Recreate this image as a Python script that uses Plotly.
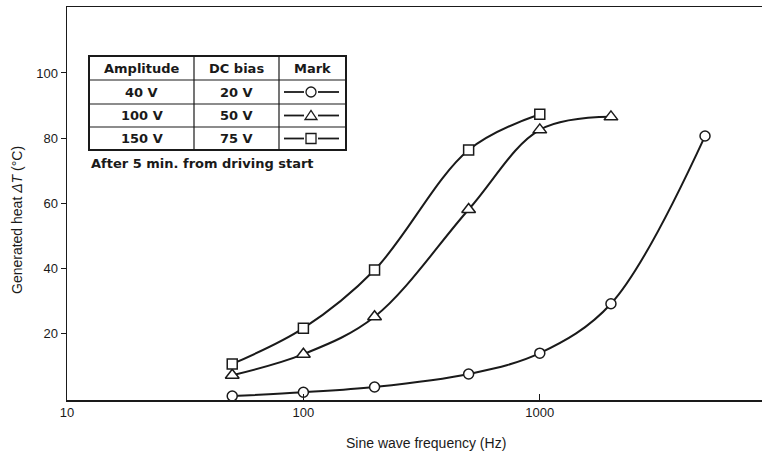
import plotly.graph_objects as go

freq_circle = [50, 100, 200, 500, 1000, 2000, 5000]
heat_circle = [0.6, 1.8, 3.4, 7.4, 13.8, 29, 80.6]
freq_triangle = [50, 100, 200, 500, 1000, 2000]
heat_triangle = [7, 13.5, 25, 58, 82.5, 86.5]
freq_square = [50, 100, 200, 500, 1000]
heat_square = [10.5, 21.5, 39.4, 76.3, 87.3]

x_ticks = [10, 100, 1000]
y_ticks = [20, 40, 60, 80, 100]

table_header = ["Amplitude", "DC bias", "Mark"]
table_amplitude = ["40 V", "100 V", "150 V"]
table_bias = ["20 V", "50 V", "75 V"]
note = "After 5 min. from driving start"
x_title = "Sine wave frequency (Hz)"
y_title = "Generated heat <i>ΔT</i> (°C)"

INK = "#1a1a1a"

OFF = 0
FW, FH = 762, 452
ML, MR, MT, MB = 67, 0, 7, 52
PW, PH = FW - ML - MR, FH - MT - MB

def px(X):
    return (X - OFF - ML) / PW

def py(Y):
    return 1 - (Y - OFF - MT) / PH

fig = go.Figure()
for xs, ys, sym, sz in [(freq_circle, heat_circle, "circle", 10),
                        (freq_triangle, heat_triangle, "triangle-up", 12),
                        (freq_square, heat_square, "square", 10)]:
    fig.add_trace(go.Scatter(
        x=xs, y=ys, mode="lines+markers",
        line=dict(color=INK, width=2, shape="spline", smoothing=1.0),
        marker=dict(symbol=sym, size=sz, color="white",
                    line=dict(color=INK, width=1.5)),
        showlegend=False))

fig.update_layout(
    width=FW, height=FH,
    margin=dict(l=ML, r=MR, t=MT, b=MB, pad=0),
    paper_bgcolor="white", plot_bgcolor="white",
    font=dict(family="Liberation Sans, Arial", color=INK, size=13),
)
fig.update_xaxes(
    type="log", range=[1, 3.94], automargin=False,
    tickvals=x_ticks, ticktext=[str(v) for v in x_ticks],
    ticks="inside", ticklen=6, tickwidth=1, tickcolor=INK,
    showline=True, linecolor=INK, linewidth=1.5, mirror=True,
    showgrid=False, zeroline=False,
    tickfont=dict(size=13),
)
fig.update_yaxes(
    range=[-0.6, 120.3], automargin=False,
    tickvals=y_ticks,
    ticks="outside", ticklen=5, tickwidth=1, tickcolor=INK,
    showline=True, linecolor=INK, linewidth=1.5,
    showgrid=False, zeroline=False,
    tickfont=dict(size=13),
)

# axis titles
fig.add_annotation(xref="paper", yref="paper", x=px(426), y=py(443), text=x_title,
                   showarrow=False, font=dict(size=14), xanchor="center", yanchor="middle")
fig.add_annotation(xref="paper", yref="paper", x=px(17), y=py(220), text=y_title,
                   showarrow=False, font=dict(size=14), textangle=-90,
                   xanchor="center", yanchor="middle")

# inset table
x0, x1, x2, x3 = 89, 194, 279, 346
rows = [56, 80, 104, 127, 150]
shapes = []
shapes.append(dict(type="rect", xref="paper", yref="paper", x0=px(x0), x1=px(x3),
                   y0=py(rows[-1]), y1=py(rows[0]), line=dict(color=INK, width=2)))
for r in rows[1:-1]:
    shapes.append(dict(type="line", xref="paper", yref="paper", x0=px(x0), x1=px(x3),
                       y0=py(r), y1=py(r), line=dict(color=INK, width=1.2)))
for c in [x1, x2]:
    shapes.append(dict(type="line", xref="paper", yref="paper", x0=px(c), x1=px(c),
                       y0=py(rows[-1]), y1=py(rows[0]), line=dict(color=INK, width=1.2)))

# mark column symbols
mc = 311
for ri, kind in enumerate(["circle", "triangle", "square"]):
    yc = (rows[ri + 1] + rows[ri + 2]) / 2
    shapes.append(dict(type="line", xref="paper", yref="paper", x0=px(284), x1=px(304),
                       y0=py(yc), y1=py(yc), line=dict(color=INK, width=1.8)))
    shapes.append(dict(type="line", xref="paper", yref="paper", x0=px(318), x1=px(339),
                       y0=py(yc), y1=py(yc), line=dict(color=INK, width=1.8)))
    if kind == "circle":
        shapes.append(dict(type="circle", xref="paper", yref="paper",
                           x0=px(mc - 5), x1=px(mc + 5), y0=py(yc + 5), y1=py(yc - 5),
                           line=dict(color=INK, width=1.3), fillcolor="white"))
    elif kind == "triangle":
        path = (f"M {px(mc - 6)} {py(yc + 4)} L {px(mc + 6)} {py(yc + 4)} "
                f"L {px(mc)} {py(yc - 5)} Z")
        shapes.append(dict(type="path", xref="paper", yref="paper", path=path,
                           line=dict(color=INK, width=1.3), fillcolor="white"))
    else:
        shapes.append(dict(type="rect", xref="paper", yref="paper",
                           x0=px(mc - 5), x1=px(mc + 5), y0=py(yc + 5), y1=py(yc - 5),
                           line=dict(color=INK, width=1.3), fillcolor="white"))
fig.update_layout(shapes=shapes)

tfont = dict(family="DejaVu Sans, Verdana", size=13, color=INK, weight="bold")
centers = [(x0 + x1) / 2, (x1 + x2) / 2]
cols = [[table_header[0]] + table_amplitude,
        [table_header[1]] + table_bias]
for ci, col in enumerate(cols):
    for ri, txt in enumerate(col):
        yc = (rows[ri] + rows[ri + 1]) / 2
        fig.add_annotation(xref="paper", yref="paper", x=px(centers[ci]), y=py(yc),
                           text=txt, showarrow=False, font=tfont,
                           xanchor="center", yanchor="middle")
fig.add_annotation(xref="paper", yref="paper", x=px((x2 + x3) / 2), y=py((rows[0] + rows[1]) / 2),
                   text=table_header[2], showarrow=False, font=tfont,
                   xanchor="center", yanchor="middle")
fig.add_annotation(xref="paper", yref="paper", x=px(89), y=py(164), text=note,
                   showarrow=False, font=tfont, xanchor="left", yanchor="middle")

fig.write_html(
    "out.html",
    config={"displayModeBar": False, "staticPlot": True},
    post_script="document.body.style.margin='0';"
                "document.documentElement.style.overflow='hidden';"
                "document.body.style.overflow='hidden';",
)
